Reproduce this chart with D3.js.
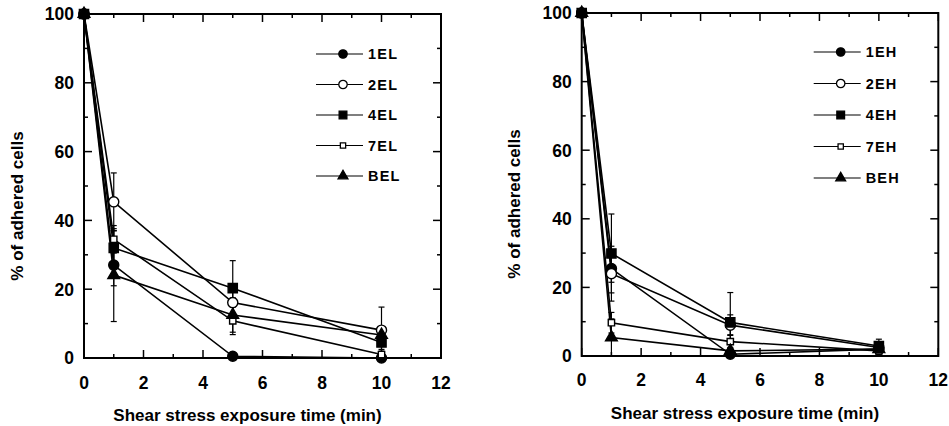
<!DOCTYPE html>
<html>
<head>
<style>
  body { margin: 0; background: #fff; }
  .tick-label { font: bold 17.5px "Liberation Sans", Arial, sans-serif; fill: #000; }
  .axis-title { font: bold 17px "Liberation Sans", Arial, sans-serif; fill: #000; }
  .legend-label { font: bold 14.5px "Liberation Sans", Arial, sans-serif; letter-spacing: 1.2px; fill: #000; }
  .series-line { fill: none; stroke: #000; stroke-width: 1.6px; }
  .err { stroke: #000; stroke-width: 1.2px; }
  .frame { fill: none; stroke: #000; stroke-width: 2px; }
</style>
</head>
<body>
<svg id="svg" width="949" height="426"></svg>
<script src="https://d3js.org/d3.v7.min.js"></script>
<script>
// time points (min)
const times = [0, 1, 5, 10]
const xTicks = [0, 2, 4, 6, 8, 10, 12]
const yTicks = [0, 20, 40, 60, 80, 100]

// left panel (EL)
const namesEL = ['1EL', '2EL', '4EL', '7EL', 'BEL']
const meanEL = [
  [100, 27, 0.5, 0],
  [100, 45.4, 16.1, 8.1],
  [100, 32, 20.3, 4.5],
  [100, 34.5, 10.8, 1],
  [100, 24.1, 12.5, 6.7]
]
const errEL = [
  [0, 6, 0, 0],
  [0, 8.4, 5, 6.7],
  [0, 5, 8, 2],
  [0, 4, 4, 1],
  [0, 13.5, 5, 2]
]

// right panel (EH)
const namesEH = ['1EH', '2EH', '4EH', '7EH', 'BEH']
const meanEH = [
  [100, 25.5, 0.5, 2],
  [100, 24, 9, 2.5],
  [100, 29.9, 9.8, 2.9],
  [100, 9.7, 4.2, 1.5],
  [100, 5.4, 1.5, 2]
]
const errEH = [
  [0, 4, 0, 0],
  [0, 8, 3, 1],
  [0, 11.5, 8.7, 2],
  [0, 3, 2, 1],
  [0, 5.4, 1, 1]
]

// marker style per series
const markers = [
  { type: d3.symbolCircle, size: 80, fill: '#000' },
  { type: d3.symbolCircle, size: 80, fill: '#fff' },
  { type: d3.symbolSquare, size: 85, fill: '#000' },
  { type: d3.symbolSquare, size: 40, fill: '#fff' },
  { type: d3.symbolTriangle, size: 60, fill: '#000' }
]

const svg = d3.select('#svg')

function drawPanel(p, names, means, errs) {
  const x = d3.scaleLinear().domain([0, 12]).range([p.left, p.right])
  const y = d3.scaleLinear().domain([0, 100]).range([p.bottom, p.top])
  const g = svg.append('g')

  // frame
  g.append('rect').attr('class', 'frame')
    .attr('x', x(0)).attr('y', y(100))
    .attr('width', x(12) - x(0)).attr('height', y(0) - y(100))

  // inward ticks on all four sides
  d3.range(0, 13).forEach(v => {
    const len = v % 2 === 0 ? 8 : 4
    g.append('line').attr('class', 'err').attr('x1', x(v)).attr('x2', x(v))
      .attr('y1', y(0)).attr('y2', y(0) - len).style('stroke-width', 1.5)
    g.append('line').attr('class', 'err').attr('x1', x(v)).attr('x2', x(v))
      .attr('y1', y(100)).attr('y2', y(100) + len).style('stroke-width', 1.5)
  })
  d3.range(0, 101, 10).forEach(v => {
    const len = v % 20 === 0 ? 8 : 4
    g.append('line').attr('class', 'err').attr('y1', y(v)).attr('y2', y(v))
      .attr('x1', x(0)).attr('x2', x(0) + len).style('stroke-width', 1.5)
    g.append('line').attr('class', 'err').attr('y1', y(v)).attr('y2', y(v))
      .attr('x1', x(12)).attr('x2', x(12) - len).style('stroke-width', 1.5)
  })

  // tick labels
  g.selectAll('.xl').data(xTicks).enter().append('text')
    .attr('class', 'tick-label')
    .attr('x', d => x(d)).attr('y', p.xLabelY)
    .attr('text-anchor', 'middle').text(d => d)
  g.selectAll('.yl').data(yTicks).enter().append('text')
    .attr('class', 'tick-label')
    .attr('x', x(0) - 10).attr('y', d => y(d)).attr('dy', '0.36em')
    .attr('text-anchor', 'end').text(d => d)

  // axis titles
  g.append('text').attr('class', 'axis-title')
    .attr('x', (x(0) + x(12)) / 2 - 15).attr('y', p.xTitleY)
    .attr('text-anchor', 'middle').text('Shear stress exposure time (min)')
  g.append('text').attr('class', 'axis-title')
    .attr('transform', `translate(${p.yTitleX},${p.yTitleMid}) rotate(-90)`)
    .attr('text-anchor', 'middle').text('% of adhered cells')

  // lines
  const line = d3.line().x((d, i) => x(times[i])).y(d => y(d))
  g.selectAll('.series-line').data(means).enter().append('path')
    .attr('class', 'series-line').attr('d', line)

  // error bars
  means.forEach((s, si) => {
    s.forEach((v, i) => {
      const e = errs[si][i]
      if (!e) return
      const lo = Math.max(0, v - e), hi = v + e
      const cx = x(times[i])
      g.append('line').attr('class', 'err')
        .attr('x1', cx).attr('x2', cx).attr('y1', y(lo)).attr('y2', y(hi))
      ;[lo, hi].forEach(t => {
        if (t === 0) return
        g.append('line').attr('class', 'err')
          .attr('x1', cx - 3).attr('x2', cx + 3).attr('y1', y(t)).attr('y2', y(t))
      })
    })
  })

  // markers
  means.forEach((s, si) => {
    const m = markers[si]
    g.selectAll(null).data(s).enter().append('path')
      .attr('d', d3.symbol().type(m.type).size(m.size))
      .attr('transform', (d, i) => `translate(${x(times[i])},${y(d)})`)
      .style('fill', m.fill).style('stroke', '#000').style('stroke-width', 1.4)
  })

  // legend
  names.forEach((n, i) => {
    const ly = p.legendTop + i * p.legendStep
    const lx = x(0) + 232
    g.append('line').attr('x1', lx).attr('x2', lx + 47).attr('y1', ly).attr('y2', ly)
      .style('stroke', '#000').style('stroke-width', 1.2)
    const m = markers[i]
    g.append('path').attr('d', d3.symbol().type(m.type).size(m.size * 0.7))
      .attr('transform', `translate(${lx + 27},${ly})`)
      .style('fill', m.fill).style('stroke', '#000').style('stroke-width', 1.3)
    g.append('text').attr('class', 'legend-label')
      .attr('x', lx + 52).attr('y', ly).attr('dy', '0.36em').text(n)
  })
}

drawPanel({ left: 84, right: 441, top: 14, bottom: 358, xLabelY: 389, xTitleY: 421,
  yTitleX: 23, yTitleMid: 206, legendTop: 54, legendStep: 30.5 }, namesEL, meanEL, errEL)
drawPanel({ left: 581.7, right: 938.3, top: 13, bottom: 356, xLabelY: 386, xTitleY: 419,
  yTitleX: 520, yTitleMid: 204, legendTop: 52, legendStep: 31.5 }, namesEH, meanEH, errEH)
</script>
</body>
</html>
